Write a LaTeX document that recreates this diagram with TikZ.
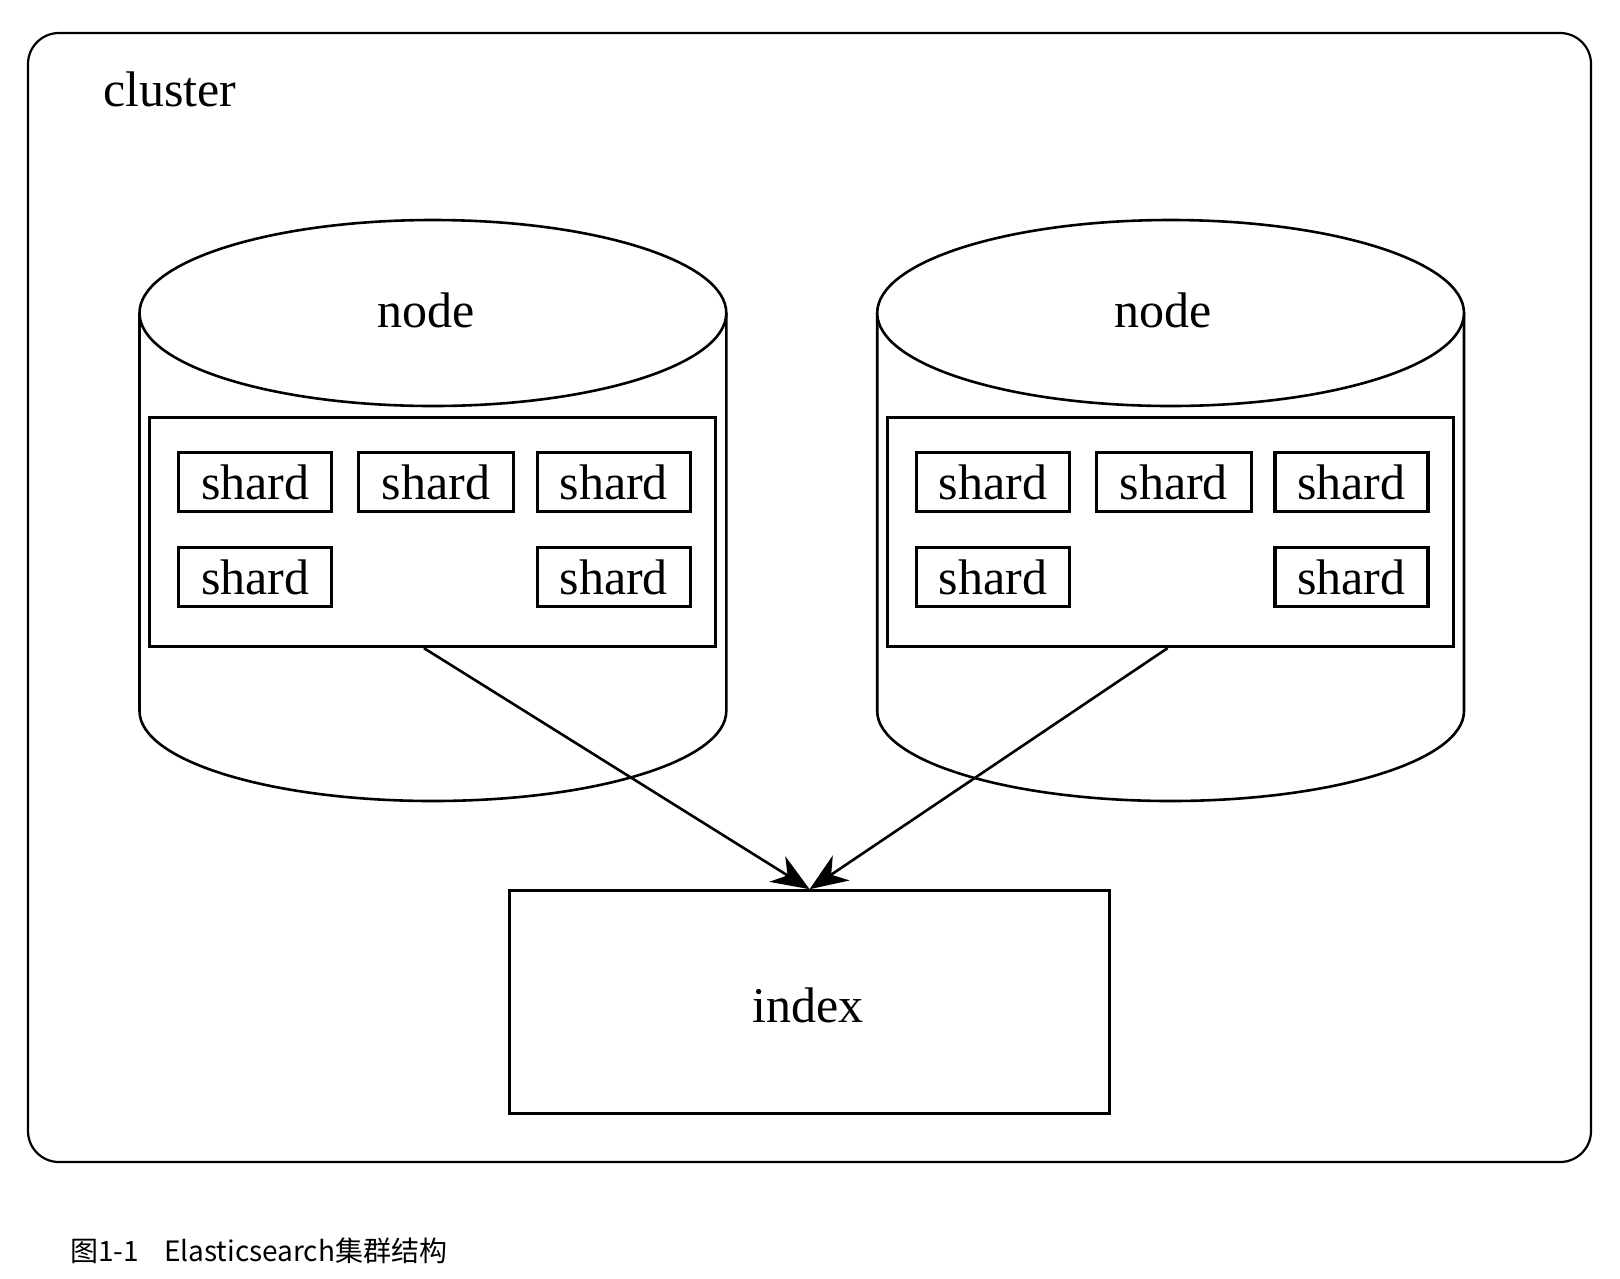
\documentclass[tikz,border=0pt]{standalone}
\usepackage{fontspec}
\setmainfont{Liberation Serif}
\newfontfamily\capfont{Noto Sans CJK SC}
\usetikzlibrary{arrows.meta}
\begin{document}
\begin{tikzpicture}[x=1pt,y=-1pt,
  lbl/.style={font=\fontsize{50}{60}\selectfont, inner sep=0},
  cyl/.style={line width=2.6pt},
  boxA/.style={draw, line width=3pt, inner sep=0, fill=white},
  shardbox/.style={draw, line width=3.4pt, inner sep=0, minimum width=153, minimum height=59, font=\fontsize{50}{60}\selectfont},
  arr/.style={line width=2.6pt, -{Stealth[length=38pt,width=30pt,inset=12pt]}}]
\useasboundingbox (0,0) rectangle (1620,1278);
% cluster frame
\node[draw, line width=2.2pt, rounded corners=31pt, minimum width=1563, minimum height=1129, inner sep=0] (cluster) at (809.5,597.5) {};
\node[lbl, anchor=base west] (clabel) at (103,106) {cluster};
% cylinders
\foreach \cx/\nm in {432.9/L,1170.6/R}{
  \draw[cyl] (\cx-293.4,313) -- (\cx-293.4,711) arc[start angle=180,end angle=360,x radius=293.4,y radius=-90] -- (\cx+293.4,313);
  \draw[cyl, fill=white] (\cx,313) ellipse[x radius=293.4, y radius=93];
}
\node[lbl] (nodeL) at (425.7,310) {node};
\node[lbl] (nodeR) at (1163.4,310) {node};
% inner boxes
\node[boxA, minimum width=566, minimum height=229] (inL) at (432.9,532.1) {};
\node[boxA, minimum width=566, minimum height=229] (inR) at (1170.6,532.1) {};
% shards left
\node[shardbox] (s1) at (255.2,482) {shard};
\node[shardbox, minimum width=155] (s2) at (436,482) {shard};
\node[shardbox] (s3) at (613.75,482) {shard};
\node[shardbox] (s4) at (255.2,577) {shard};
\node[shardbox] (s5) at (613.75,577) {shard};
% shards right
\node[shardbox] (t1) at (992.9,482) {shard};
\node[shardbox, minimum width=155] (t2) at (1173.7,482) {shard};
\node[shardbox] (t3) at (1351.45,482) {shard};
\node[shardbox] (t4) at (992.9,577) {shard};
\node[shardbox] (t5) at (1351.45,577) {shard};
% index
\node[draw, line width=3pt, inner sep=0, minimum width=600, minimum height=223, font=\fontsize{50}{60}\selectfont] (idx) at (809.6,1002.2) {};
\node[lbl] (idxlabel) at (808,1005) {index};
% arrows
\draw[arr] ([xshift=-9pt]inL.south) -- (idx.north);
\draw[arr] ([xshift=-3pt]inR.south) -- (idx.north);
% caption
\node[anchor=west, inner sep=0, font=\capfont\fontsize{28}{33}\selectfont] (cap) at (70,1251) {图1-1\hspace{0.9em}Elasticsearch集群结构};
\end{tikzpicture}
\end{document}
